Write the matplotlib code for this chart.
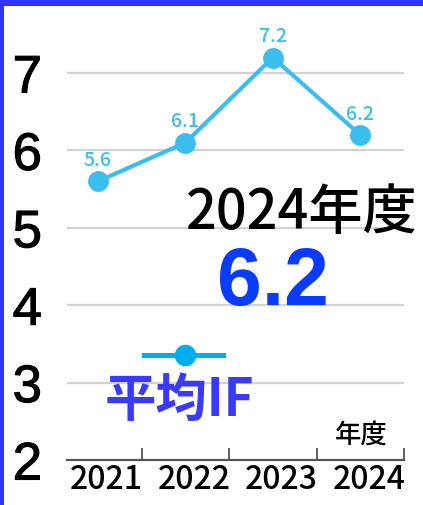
import matplotlib
matplotlib.use("Agg")
import matplotlib.pyplot as plt
import matplotlib.patheffects as pe
from matplotlib.lines import Line2D
from matplotlib.patches import Rectangle
from matplotlib import font_manager

years = ["2021", "2022", "2023", "2024"]
avg_if = [5.6, 6.1, 7.2, 6.2]
y_ticks = [2, 3, 4, 5, 6, 7]

W, H = 423, 505
CJK = ["Noto Sans CJK JP", "DejaVu Sans"]
names = {f.name for f in font_manager.fontManager.ttflist}
NARROW = "Liberation Sans Narrow" if "Liberation Sans Narrow" in names else "Liberation Sans"


def fx(px):
    return px / W


def fy(py):
    return 1 - py / H


def main():
    fig = plt.figure(figsize=(W / 100, H / 100), dpi=100)
    ax = fig.add_axes([fx(67), fy(460), fx(404) - fx(67), fy(0) - fy(460)])

    x = list(range(len(years)))
    ax.plot(x, avg_if, color="#3bbdee", lw=3, marker="o", ms=14,
            clip_on=False, zorder=3)
    for xi, v in zip(x, avg_if):
        ax.annotate(f"{v:.1f}", (xi, v), xytext=(0, 15), textcoords="offset points",
                    ha="center", va="center", fontsize=14, color="#3bbdee",
                    family=CJK, weight="medium")

    ax.set_xlim(-0.354, 3.5)
    ax.set_ylim(2, 2 + 460 / 77.4)

    # y axis: big labels, grid lines
    ax.set_yticks(y_ticks)
    ax.set_yticklabels([str(t) for t in y_ticks], family=NARROW, fontsize=38)
    for lab in ax.get_yticklabels():
        lab.set_path_effects([pe.withStroke(linewidth=0.8, foreground="black")])
    ax.tick_params(axis="y", length=0, pad=18)
    for t in y_ticks[1:]:
        ax.axhline(t, color="#d2d2d2", lw=1.6, zorder=1)

    # x axis: ticks between categories, labels under each
    ax.set_xticks([i + 0.5 for i in x])
    ax.set_xticklabels([])
    ax.tick_params(axis="x", direction="in", length=9, width=1.3, color="#555555")
    ax.set_xticks([i + 0.1 for i in x], minor=True)
    ax.set_xticklabels(years, minor=True, family=CJK, fontsize=23, weight="medium")
    ax.tick_params(axis="x", which="minor", length=0, pad=3)

    for s in ["top", "left", "right"]:
        ax.spines[s].set_visible(False)
    ax.spines["bottom"].set_color("#555555")
    ax.spines["bottom"].set_linewidth(1.6)

    # annotations
    fig.text(fx(418), fy(229), "2024年度", ha="right", va="baseline",
             fontsize=39, family=CJK, weight="medium", color="black")
    fig.text(fx(273), fy(305), "6.2", ha="center", va="baseline",
             fontsize=58, weight="bold", family="Liberation Sans", color="#0a3cff")
    fig.text(fx(361), fy(435), "年度", ha="center", va="center",
             fontsize=19, family=CJK, weight="medium", color="black")

    # legend drawn by hand
    fig.add_artist(Line2D([fx(144), fx(223)], [fy(355), fy(355)],
                          color="#00aeef", lw=3.6))
    fig.add_artist(Line2D([fx(185)], [fy(355)], color="#00aeef",
                          marker="o", ms=14.5, lw=0))
    fig.text(fx(179), fy(400), "平均IF", ha="center", va="center",
             fontsize=37, weight="bold", family=CJK, color="#3a3aff")

    # blue frame
    fig.add_artist(Rectangle((0, fy(6)), 1, 6 / H, transform=fig.transFigure,
                             color="#3333ff", lw=0))
    fig.add_artist(Rectangle((0, 0), 4 / W, 1, transform=fig.transFigure,
                             color="#3333ff", lw=0))

    fig.savefig("out.png", dpi=100)


if __name__ == "__main__":
    main()
